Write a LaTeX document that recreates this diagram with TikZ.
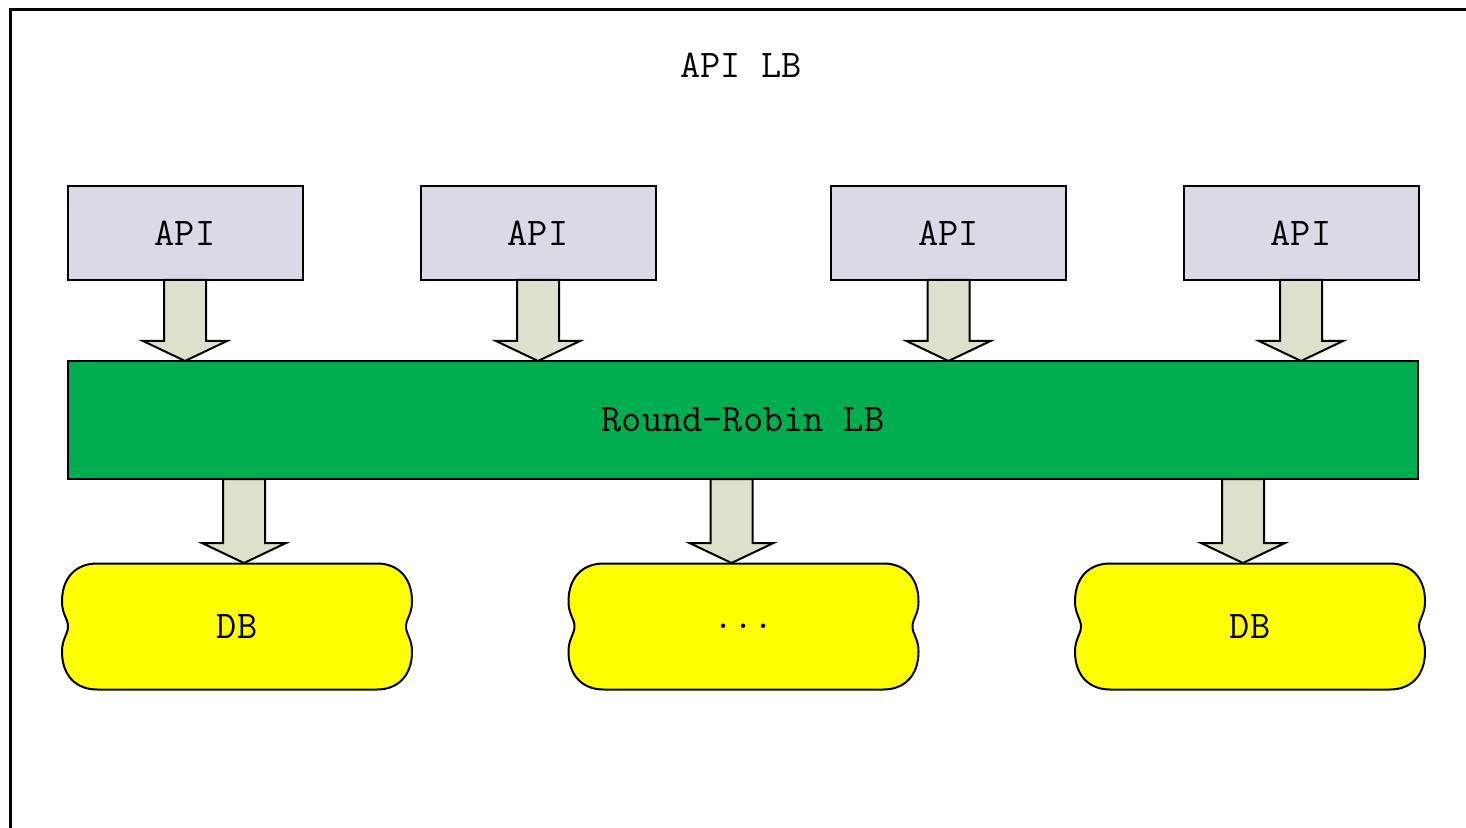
\documentclass[tikz,border=0pt]{standalone}
\usetikzlibrary{calc}

\definecolor{apifill}{RGB}{220,216,230}
\definecolor{arrowfill}{RGB}{221,224,202}
\definecolor{lbgreen}{RGB}{0,173,79}
\definecolor{dbyellow}{RGB}{255,255,0}

% block arrow from #1 (top of shaft) down to #2 (tip)
\newcommand\fatarrow[2]{%
  \coordinate (fa-top) at #1;
  \coordinate (fa-tip) at #2;
  \draw[fatarrow] ($(fa-top)+(-21,0)$) -- ($(fa-tip)+(-21,-20)$) -- ++(-21,0) -- (fa-tip)
    -- ++(42,-20) -- ++(-21,0) -- ($(fa-top)+(21,0)$) -- cycle;}

% wavy database outline around #2, then the node #1 on top
\newcommand\dbnode[3]{%
  \begin{scope}[shift={#2}]
    \draw[dbline] (-140,-63) -- (140,-63)
      .. controls (160,-63) and (175,-50) .. (175,-25)
      .. controls (175,-12) and (169,-8) .. (169,0)
      .. controls (169,8) and (175,12) .. (175,25)
      .. controls (175,50) and (160,63) .. (140,63) -- (-140,63)
      .. controls (-160,63) and (-175,50) .. (-175,25)
      .. controls (-175,12) and (-169,8) .. (-169,0)
      .. controls (-169,-8) and (-175,-12) .. (-175,-25)
      .. controls (-175,-50) and (-160,-63) .. (-140,-63) -- cycle;
  \end{scope}
  \node[dbbox] (#1) at #2 {#3};}

\begin{document}
\begin{tikzpicture}[x=0.5pt, y=-0.5pt, line width=1pt,
                    apibox/.style={draw, fill=apifill, minimum width=117.5pt, minimum height=47pt},
                    lbbox/.style={draw, fill=lbgreen, minimum width=675pt, minimum height=59pt},
                    dbbox/.style={minimum width=175pt, minimum height=63.5pt},
                    dbline/.style={draw, fill=dbyellow},
                    fatarrow/.style={draw, fill=arrowfill, line join=miter}]

    \tikzstyle{every node}=[inner sep=0pt, outer sep=0pt, font=\fontsize{19.6}{22}\selectfont\ttfamily]

    \useasboundingbox (0,0) rectangle (1466,828);
    \draw[line width=1.5pt] (10,828) -- (10,10) -- (1466,10);

    \node (title) at (741,65) {API LB};

    \node[apibox] (api1) at (185,233) {API};
    \node[apibox] (api2) at (538,233) {API};
    \node[apibox] (api3) at (948.5,233) {API};
    \node[apibox] (api4) at (1301,233) {API};

    \node[lbbox] (lb) at (743,420) {Round-Robin LB};

    \dbnode{db1}{(237,626.5)}{DB}
    \dbnode{db2}{(743.5,626.5)}{...}
    \dbnode{db3}{(1250,626.5)}{DB}

    \foreach \i in {1,...,4}
        \fatarrow{(api\i.south)}{(api\i.south |- lb.north)};

    \coordinate (tip1) at ($(db1.north)+(7,0)$);
    \coordinate (tip2) at ($(db2.north)+(-12,0)$);
    \coordinate (tip3) at ($(db3.north)+(-7,0)$);
    \foreach \i in {1,2,3}
        \fatarrow{(lb.south -| tip\i)}{(tip\i)};
\end{tikzpicture}
\end{document}
